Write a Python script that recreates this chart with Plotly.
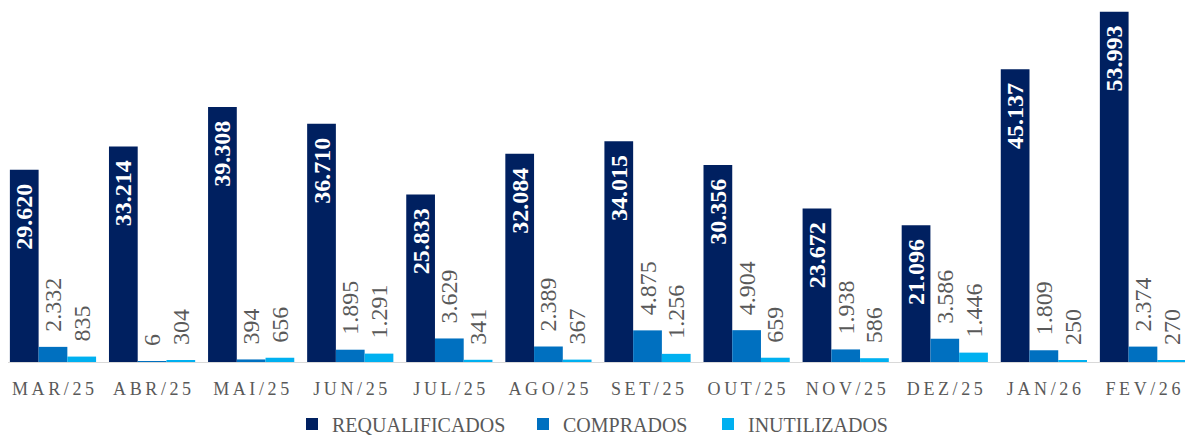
import plotly.graph_objects as go

categories = ["MAR/25", "ABR/25", "MAI/25", "JUN/25", "JUL/25", "AGO/25",
              "SET/25", "OUT/25", "NOV/25", "DEZ/25", "JAN/26", "FEV/26"]
requalificados = [29620, 33214, 39308, 36710, 25833, 32084, 34015, 30356, 23672, 21096, 45137, 53993]
comprados = [2332, 6, 394, 1895, 3629, 2389, 4875, 4904, 1938, 3586, 1809, 2374]
inutilizados = [835, 304, 656, 1291, 341, 367, 1256, 659, 586, 1446, 250, 270]
tick_labels = ["\u2009".join(c) for c in categories]

SERIF = "Liberation Serif"
GREY = "#595959"
# the page body adds an 8px offset, so the figure is sized to fit the window
W, H = 1185, 430
L, R, T, B = 0, 0, 0, 76
PW = W - L - R

def legend_x(text_left):
    return (text_left - 8 - 40 - L) / PW

fig = go.Figure()
fig.add_trace(go.Bar(
    name="REQUALIFICADOS", x=categories, y=requalificados,
    marker=dict(color="#002060", line=dict(width=0)),
    texttemplate="%{y:,}\u00a0\u2009", textposition="inside", insidetextanchor="end",
    textangle=-90, constraintext="none",
    insidetextfont=dict(family=SERIF, size=24, color="white", weight="bold"),
    legend="legend",
))
fig.add_trace(go.Bar(
    name="COMPRADOS", x=categories, y=comprados,
    marker=dict(color="#0070C0", line=dict(width=0)),
    texttemplate="\u00a0\u00a0%{y:,}", textposition="outside",
    textangle=-90, constraintext="none", cliponaxis=False,
    outsidetextfont=dict(family=SERIF, size=24, color=GREY),
    legend="legend2",
))
fig.add_trace(go.Bar(
    name="INUTILIZADOS", x=categories, y=inutilizados,
    marker=dict(color="#00B0F0", line=dict(width=0)),
    texttemplate="\u00a0\u00a0%{y:,}", textposition="outside",
    textangle=-90, constraintext="none", cliponaxis=False,
    outsidetextfont=dict(family=SERIF, size=24, color=GREY),
    legend="legend3",
))

leg_common = dict(orientation="h", xanchor="left", y=-0.175, yanchor="middle",
                  font=dict(family=SERIF, size=20, color=GREY), itemwidth=30,
                  bgcolor="rgba(0,0,0,0)")

fig.update_layout(
    width=W, height=H,
    margin=dict(l=L, r=R, t=T, b=B, autoexpand=False),
    separators=",.",
    barmode="group", bargap=0.13, bargroupgap=0,
    plot_bgcolor="white", paper_bgcolor="white",
    font=dict(family=SERIF, color=GREY),
    showlegend=True,
    legend=dict(x=legend_x(332), **leg_common),
    legend2=dict(x=legend_x(563), **leg_common),
    legend3=dict(x=legend_x(748), **leg_common),
)
fig.update_xaxes(
    tickvals=categories, ticktext=tick_labels, range=[-0.454, 11.505],
    tickfont=dict(family=SERIF, size=18, color=GREY),
    showline=True, linecolor="#D9D9D9", linewidth=1,
    ticks="", ticklabelstandoff=10, showgrid=False,
)
fig.update_yaxes(range=[0, 54563], visible=False, showgrid=False)

fig.write_html("out.html")
